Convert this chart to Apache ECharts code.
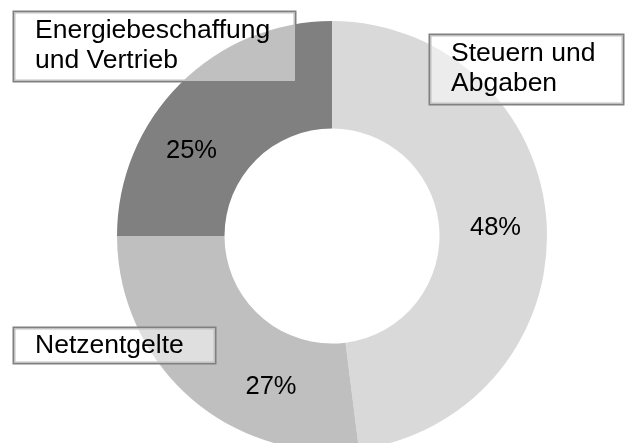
<!DOCTYPE html>
<html>
<head>
<meta charset="utf-8">
<script src="https://cdn.jsdelivr.net/npm/echarts@6/dist/echarts.min.js"></script>
<style>
    html, body { margin: 0; padding: 0; background: #fff; }
    #pieEcharts { width: 627px; height: 443px; }
</style>
</head>
<body>
<div id="pieEcharts"></div>
<script>
    // Daten
    const categories = ['Steuern und\nAbgaben', 'Netzentgelte', 'Energiebeschaffung\nund Vertrieb']
    const shares = [48, 27, 25]
    const colors = ['#d9d9d9', '#bfbfbf', '#808080']

    // Positionen der Beschriftungen (Prozentwerte, Mittelpunkt)
    const pctPos = [[495.5, 228], [271, 387], [191.5, 151]]
    // Positionen der Kategorie-Kästchen (links oben) und Inhaltsbreite
    const boxPos = [[430, 35, 172], [14, 328, 180], [14, 12, 260]]

    const pieData = categories.map((name, i) => ({
        name: name,
        value: shares[i],
        itemStyle: { color: colors[i] }
    }))

    const myChart = echarts.init(document.getElementById('pieEcharts'))

    const option = {
        animation: false,
        series: [
            {
                // Ring mit Prozentwerten
                type: 'pie',
                center: [332, 236],
                radius: [107.5, 215],
                startAngle: 90,
                clockwise: true,
                silent: true,
                itemStyle: { borderWidth: 0 },
                label: {
                    show: true,
                    position: 'inside',
                    formatter: '{c}%',
                    color: '#000',
                    fontFamily: 'Liberation Sans, Arial, sans-serif',
                    fontSize: 25.5
                },
                labelLine: { show: false },
                labelLayout: function (params) {
                    const p = pctPos[params.dataIndex]
                    return { x: p[0], y: p[1], align: 'center', verticalAlign: 'middle' }
                },
                data: pieData
            },
            {
                // unsichtbarer Ring nur für die Kategorie-Kästchen
                type: 'pie',
                center: [332, 236],
                radius: [107.5, 215],
                startAngle: 90,
                clockwise: true,
                silent: true,
                itemStyle: { color: 'rgba(0,0,0,0)', borderWidth: 0 },
                label: {
                    show: true,
                    position: 'outside',
                    formatter: '{b}',
                    color: '#000',
                    fontFamily: 'Liberation Sans, Arial, sans-serif',
                    fontSize: 26.5,
                    lineHeight: 30,
                    backgroundColor: 'rgba(255,255,255,0.5)',
                    borderColor: '#808080',
                    borderWidth: 1.5,
                    align: 'left'
                },
                labelLine: { show: false },
                labelLayout: function (params) {
                    const b = boxPos[params.dataIndex]
                    return {
                        x: b[0], y: b[1], align: 'left', verticalAlign: 'top'
                    }
                },
                data: categories.map((name, i) => {
                    const b = boxPos[i]
                    const lines = name.split('\n').length
                    return {
                        name: name,
                        value: shares[i],
                        label: {
                            width: b[2],
                            padding: lines > 1 ? [4, 0, 5, 21] : [3, 0, 2, 21]
                        }
                    }
                })
            }
        ]
    }

    myChart.setOption(option)
</script>
</body>
</html>
